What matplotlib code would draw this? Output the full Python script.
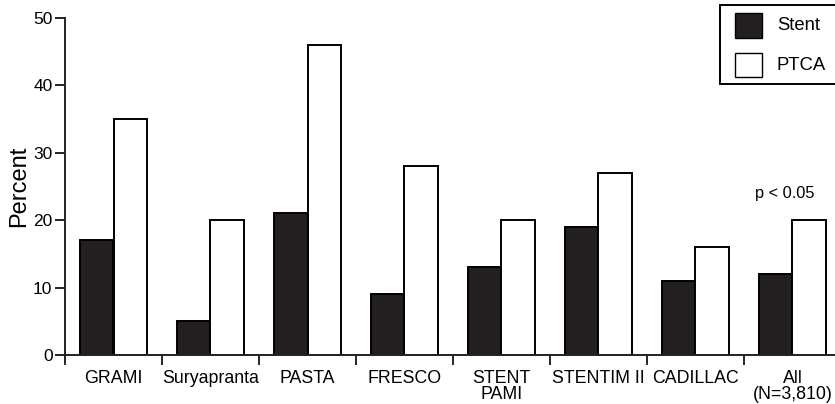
import matplotlib
matplotlib.use("Agg")
import matplotlib.pyplot as plt
from matplotlib.patches import Rectangle
import numpy as np

plt.rcParams['font.family'] = ['Liberation Sans', 'DejaVu Sans']

trials = ["GRAMI", "Suryapranta", "PASTA", "FRESCO", "STENT\nPAMI",
          "STENTIM II", "CADILLAC", "All\n(N=3,810)"]
stent = [17, 5, 21, 9, 13, 19, 11, 12]
ptca = [35, 20, 46, 28, 20, 27, 16, 20]
series_names = ["Stent", "PTCA"]
series_colors = ["#231f20", "white"]
yticks = [0, 10, 20, 30, 40, 50]
note = "p < 0.05"

W, H = 835, 404
fig = plt.figure(figsize=(W / 100, H / 100), dpi=100)
ax = fig.add_axes([65 / W, 49 / H, 770 / W, 337 / H])

n = len(trials)
x = np.arange(n)
bw = 0.345
lw = 1.4
ax.bar(x + 0.155, stent, width=bw, align='edge', color=series_colors[0],
       edgecolor='black', linewidth=lw, zorder=2)
ax.bar(x + 0.155 + bw, ptca, width=bw, align='edge', color=series_colors[1],
       edgecolor='black', linewidth=lw, zorder=2)

ax.set_xlim(0, 770 / 97)
ax.set_ylim(0, 50)

for s in ['top', 'right']:
    ax.spines[s].set_visible(False)
for s in ['left', 'bottom']:
    ax.spines[s].set_linewidth(1.4)
    ax.spines[s].set_color('#222222')

ax.set_yticks(yticks)
ax.set_yticklabels([str(v) for v in yticks], fontsize=12.5)
ax.tick_params(axis='y', direction='out', length=7, width=1.2, pad=2)

# group dividers as major ticks, labels on minor ticks at group centres
ax.set_xticks(x)
ax.set_xticklabels([])
ax.tick_params(axis='x', which='major', direction='out', length=7, width=1.2)
ax.set_xticks(x + 0.5, minor=True)
ax.set_xticklabels(trials, minor=True, fontsize=12.8, linespacing=0.9)
ax.tick_params(axis='x', which='minor', length=0, pad=11)
for lbl in ax.get_xticklabels(minor=True):
    lbl.set_verticalalignment('top')

ax.set_ylabel("Percent", fontsize=17, labelpad=2)

ax.text(785 / 97 - 65 / 97, 23.9, note, ha='center', va='center', fontsize=11.8)

# legend box drawn in figure pixel coordinates
def fx(px):
    return px / W

def fy(py):
    return 1 - py / H

fig.patches.append(Rectangle((fx(720), fy(84)), fx(835 - 720) + 0.01, (84 - 5) / H,
                             transform=fig.transFigure, facecolor='white',
                             edgecolor='black', linewidth=1.4, clip_on=False))
rows = [(13, 38), (53, 77)]
for (t, b), name, col in zip(rows, series_names, series_colors):
    fig.patches.append(Rectangle((fx(735), fy(b)), fx(27), (b - t) / H,
                                 transform=fig.transFigure, facecolor=col,
                                 edgecolor='black', linewidth=1.0))
    fig.text(fx(777), fy((t + b) / 2), name, ha='left', va='center', fontsize=13.3)

fig.savefig("out.png", dpi=100)
